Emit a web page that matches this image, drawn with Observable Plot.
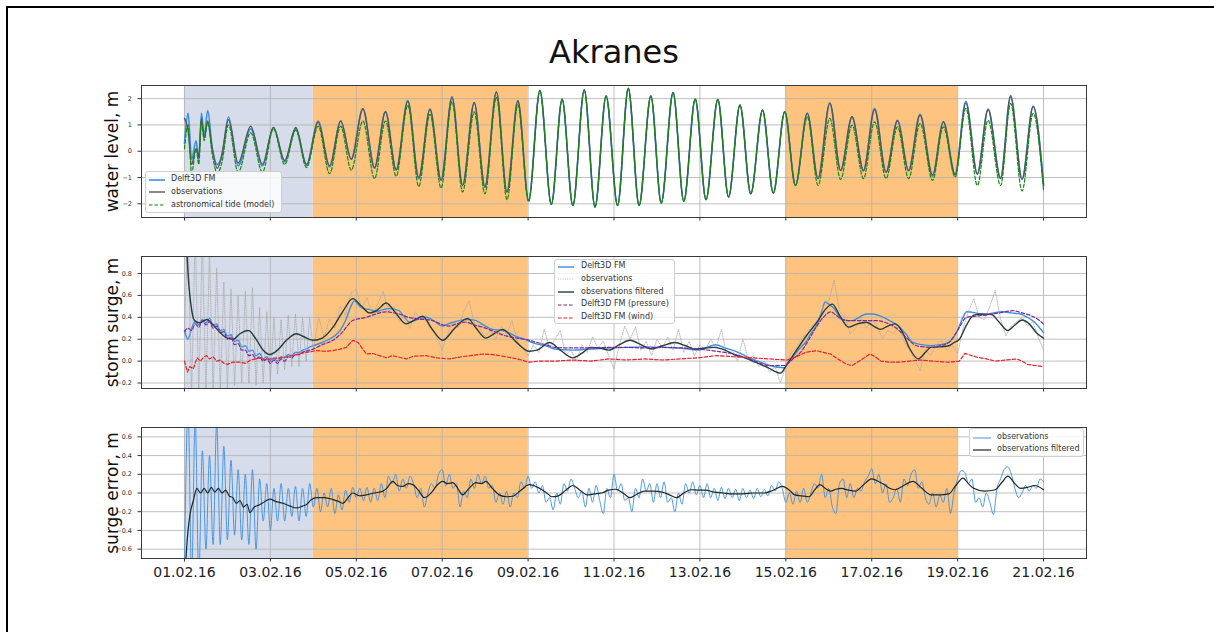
<!DOCTYPE html>
<html><head><meta charset="utf-8">
<script src="https://cdn.jsdelivr.net/npm/d3@7"></script>
<script src="https://cdn.jsdelivr.net/npm/@observablehq/plot@0.6"></script>
<style>
body{margin:0;background:#fff;font-family:"DejaVu Sans",sans-serif;}
#root{position:relative;width:1214px;height:632px;overflow:hidden;background:#fff;}
.panel{position:absolute;left:0;}
.bt{position:absolute;left:6px;top:6px;right:0;height:2px;background:#000;}
.bl{position:absolute;left:6px;top:6px;bottom:0;width:2px;background:#000;}
.leg{position:absolute;border:1px solid #cfcfcf;border-radius:3px;background:rgba(255,255,255,0.82);box-sizing:border-box;}
.leg span{position:absolute;font-size:8px;line-height:10px;color:#333;white-space:nowrap;}
.leg svg{position:absolute;overflow:visible;}
</style></head>
<body><div id="root"><div class="bt"></div><div class="bl"></div></div>
<script>
// ---------- axes ----------
const xTickHours = [0,48,96,144,192,240,288,336,384,432,480];
const xTickLabels = ["01.02.16","03.02.16","05.02.16","07.02.16","09.02.16","11.02.16","13.02.16","15.02.16","17.02.16","19.02.16","21.02.16"];
const wlTicks = [-2,-1,0,1,2];
const wlTickLabels = ["\u22122","\u22121","0","1","2"];
const ssTicks = [-0.2,0,0.2,0.4,0.6,0.8];
const ssTickLabels = ["\u22120.2","0.0","0.2","0.4","0.6","0.8"];
const seTicks = [-0.6,-0.4,-0.2,0,0.2,0.4,0.6];
const seTickLabels = ["\u22120.6","\u22120.4","\u22120.2","0.0","0.2","0.4","0.6"];

// ---------- shaded periods (hours since 01.02.16 00:00) ----------
const shadeStart = [0, 72, 336];
const shadeEnd = [72, 192, 432];
const shadeKind = ["pre", "event", "event"];

// ---------- water level extrema (hours, m) ----------
const wlTime = [0,2,4,6.5,8,9.5,11,13,15.5,18.4, 21,24.6,30,37,43.6,49.7,56,62.2,68.2,74.7,
 81.1,87.3,93.2,99.7,106.2,112.3,118.3,124.8,130.9,137.2, 143.4,149.5,155.4,161.9,167.9,174.3,180.2,186.3,192.3,198.6,
 205,211,217,223.4,229.4,235.6,242,248,254,260.6, 266.4,273,279,285.4,291.4,298,304,310.4,316.4,323,
 329,335.4,341.4,348,354,360.6,366.6,373,379.4,385.6, 392,398.4,404.6,411,418,424,430.6,436.6,443,449,
 456,461.6,468,474.2,480];
const wlObs = [1.25,0.8,-0.5,0.1,-0.2,1.25,0.5,1.15,0.1,-0.65, -0.1,1.2,-0.45,0.95,-0.5,0.9,-0.35,0.9,-0.5,1.1,
 -0.55,1.15,-0.3,1.62,-0.62,1.5,-0.7,1.9,-1.0,1.6, -1.1,2.05,-1.3,1.85,-1.35,2.25,-1.55,1.92,-1.87,2.3,
 -2.02,1.98,-2.06,2.33,-2.12,2.1,-2.06,2.39,-2.06,2.1, -1.97,2.23,-1.9,1.98,-1.84,1.97,-1.74,1.76,-1.62,1.56,
 -1.59,1.5,-1.3,1.44,-1.04,1.84,-0.73,1.31,-0.73,1.59, -0.79,1.16,-0.73,1.37,-0.9,1.12,-0.88,1.84,-0.88,1.59,
 -1.04,2.07,-1.08,1.69,-1.3];
const wlModel = [0.3,1.45,-0.3,0.4,-0.35,1.45,0.6,1.55,0.15,-0.5, -0.15,1.3,-0.55,0.85,-0.55,0.9,-0.4,0.85,-0.55,1.15,
 -0.6,1.15,-0.3,1.6,-0.65,1.5,-0.72,1.93,-1.05,1.6, -1.1,2.08,-1.3,1.85,-1.38,2.25,-1.55,1.92,-1.87,2.32,
 -2.02,1.98,-2.06,2.33,-2.12,2.1,-2.06,2.39,-2.06,2.1, -1.97,2.23,-1.9,1.98,-1.84,1.97,-1.74,1.76,-1.62,1.56,
 -1.59,1.5,-1.3,1.45,-1.04,1.82,-0.73,1.3,-0.75,1.63, -0.8,1.18,-0.75,1.4,-0.95,1.12,-0.88,1.9,-0.85,1.6,
 -1.0,2.12,-1.05,1.72,-1.28];
const wlTide = [0.1,1.0,-0.85,0.1,-0.5,1.15,0.4,1.1,-0.1,-0.85, -0.4,1.0,-0.8,0.7,-0.8,0.85,-0.5,0.8,-0.62,0.95,
 -0.85,0.95,-0.72,1.15,-1.04,1.15,-0.95,1.75,-1.34,1.4, -1.4,1.88,-1.55,1.5,-1.62,2.05,-1.84,1.76,-1.92,2.3,
 -2.02,1.96,-2.06,2.33,-2.12,2.1,-2.06,2.39,-2.06,2.1, -1.97,2.23,-1.9,1.98,-1.84,1.97,-1.74,1.76,-1.62,1.56,
 -1.59,1.5,-1.3,1.31,-1.3,1.25,-1.07,0.99,-1.04,1.12, -1.04,0.93,-1.04,1.06,-1.11,0.93,-0.98,1.63,-1.3,1.18,
 -1.3,1.82,-1.51,1.44,-1.49];

// ---------- storm surge [hours, m] ----------
const ssModel = [[0,0.28],[2,0.2],[4,0.3],[6,0.36],[8,0.33],[10,0.38],[12,0.35],[14,0.39],[16,0.33],[18,0.34],[20,0.28],[22,0.29],
 [24,0.23],[26,0.24],[28,0.18],[30,0.19],[32,0.13],[34,0.14],[36,0.09],[38,0.1],[40,0.05],[42,0.07],[44,0.02],[46,0.04],
 [48,0.0],[50,0.03],[52,0.0],[54,0.04],[56,0.03],[58,0.06],[60,0.05],[62,0.08],[64,0.08],[66,0.1],[68,0.11],[70,0.13],
 [72,0.14],[77,0.17],[83,0.22],[87,0.28],[90,0.37],[93,0.5],[95,0.55],[98,0.5],[100,0.48],[104,0.47],[107,0.45],[111,0.47],
 [114.6,0.48],[118,0.47],[120,0.46],[123,0.4],[125.7,0.355],[130,0.38],[135,0.4],[140,0.36],[144,0.32],[149,0.35],[153.6,0.37],
 [158,0.38],[162.9,0.37],[167,0.33],[172,0.29],[177,0.28],[181,0.26],[186,0.22],[190,0.2],[196,0.16],[202,0.14],[207,0.11],
 [217,0.1],[227,0.11],[237,0.12],[247,0.125],[257,0.13],[267,0.125],[277,0.12],[287,0.1],[297,0.15],[302,0.12],[307,0.095],
 [312,0.06],[317,0.02],[322,-0.01],[327,-0.04],[335,-0.06],[338,0.0],[341,0.06],[344,0.12],[347,0.17],[350,0.25],[354,0.355],
 [356,0.45],[358,0.54],[360,0.52],[363,0.48],[367,0.385],[370,0.37],[373,0.37],[377,0.4],[381,0.43],[385,0.43],[389,0.41],
 [394,0.37],[399,0.32],[403,0.25],[407,0.17],[412,0.15],[417,0.14],[422,0.15],[427,0.17],[431,0.25],[435,0.4],[437,0.45],
 [442,0.44],[447,0.42],[452,0.44],[457,0.45],[462,0.44],[467,0.43],[471,0.4],[475,0.355],[478,0.3],[480,0.26]];
const ssPressure = [[0,0.27],[2,0.3],[4,0.28],[6,0.34],[8,0.31],[10,0.37],[12,0.33],[14,0.36],[16,0.3],[18,0.32],[20,0.26],[22,0.27],
 [24,0.2],[26,0.22],[28,0.15],[30,0.16],[32,0.1],[34,0.1],[36,0.05],[38,0.06],[40,0.02],[42,0.04],[44,0.0],[46,0.02],
 [48,-0.02],[50,0.01],[52,-0.02],[54,0.02],[56,0.0],[58,0.04],[60,0.03],[62,0.06],[64,0.06],[66,0.08],[68,0.09],[70,0.1],
 [72,0.11],[77,0.15],[83,0.19],[88,0.26],[94,0.37],[101.6,0.4],[107,0.43],[112.7,0.45],[117,0.44],[120,0.43],[125,0.4],
 [131,0.385],[138.7,0.37],[143,0.34],[148,0.32],[152,0.34],[157,0.355],[162,0.33],[166.6,0.31],[173,0.27],[179.6,0.23],
 [186,0.21],[192.6,0.19],[197,0.17],[202,0.15],[207,0.125],[217,0.12],[227,0.12],[237,0.125],[247,0.125],[257,0.12],
 [267,0.125],[277,0.12],[287,0.11],[297,0.09],[307,0.065],[317,0.01],[327,-0.04],[335,-0.04],[340,0.02],[345,0.095],
 [349,0.2],[353,0.31],[357,0.4],[361,0.45],[364,0.42],[367,0.385],[372,0.37],[377,0.37],[382,0.37],[387,0.37],[392,0.35],
 [397,0.31],[403,0.22],[409,0.14],[413,0.13],[417,0.125],[422,0.14],[427,0.17],[432,0.28],[437,0.4],[442,0.41],[447,0.42],
 [455,0.44],[463,0.46],[468,0.44],[473,0.415],[477,0.38],[480,0.34]];
const ssWind = [[0,0.0],[1.7,-0.1],[3,-0.05],[5,-0.07],[7,0.03],[9,0.0],[11,0.04],[12.4,0.05],[14,0.02],[16,0.04],[18,0.0],
 [20,0.01],[22,-0.02],[24,-0.03],[27,-0.01],[31,-0.01],[34,-0.02],[37,0.01],[42,0.03],[45,0.01],[48,0.02],[53,0.03],[57,0.04],
 [60,0.05],[64,0.065],[68,0.08],[73.7,0.095],[78,0.09],[83,0.095],[87,0.11],[90.4,0.125],[94,0.19],[97,0.17],[101.6,0.065],
 [105,0.07],[109,0.05],[113,0.03],[116,0.05],[120,0.035],[124,0.02],[128,0.045],[135,0.05],[141,0.03],[148,0.02],[155,0.04],
 [160,0.05],[166.6,0.065],[172,0.06],[179.6,0.04],[186,0.02],[192.6,-0.01],[198,0.0],[207,0.0],[217,0.01],[227,0.0],[237,0.02],
 [247,0.01],[257,0.02],[267,0.01],[277,0.02],[287,0.03],[297,0.05],[307,0.04],[317,0.03],[327,0.02],[336.6,0.01],[342,0.04],
 [347,0.08],[353,0.095],[357,0.08],[361,0.065],[364,0.03],[367,0.0],[370,-0.03],[373,-0.04],[377,0.0],[383,0.065],[386,0.04],
 [389,0.0],[394,-0.01],[399,-0.01],[405,0.0],[411,0.01],[418,0.0],[427,-0.01],[433,0.0],[436,0.07],[440,0.05],[443,0.035],
 [448,0.02],[453,0.0],[459,0.01],[465,0.02],[468,0.0],[471,-0.03],[475,-0.04],[480,-0.05]];
const ssObsFiltered = [[0,1.5],[1,1.1],[2,0.8],[3,0.6],[4,0.47],[5,0.39],[6.5,0.36],[8.7,0.35],[12.4,0.38],[16,0.33],[20,0.26],
 [24,0.21],[27.3,0.2],[31,0.25],[35.7,0.28],[40,0.2],[44,0.1],[47.7,0.06],[52,0.1],[57,0.19],[62.6,0.25],[67,0.22],[71.9,0.19],
 [77,0.21],[83,0.31],[88,0.44],[94.1,0.57],[99,0.5],[103.4,0.44],[108,0.47],[112.7,0.53],[118,0.44],[123.9,0.34],[128,0.37],
 [133.1,0.41],[138,0.3],[144.3,0.19],[151,0.3],[158.2,0.39],[163,0.3],[168.4,0.21],[173,0.25],[177.7,0.29],[185,0.18],
 [192.6,0.09],[197,0.1],[204,0.17],[210,0.1],[217,0.03],[222,0.07],[227,0.125],[232,0.12],[237,0.1],[243,0.15],[249,0.19],
 [255,0.15],[261,0.11],[267,0.14],[274,0.17],[280,0.14],[285,0.11],[291,0.12],[296,0.125],[302,0.1],[307,0.06],[313,0.03],
 [319,-0.01],[326,-0.06],[333,-0.11],[336.6,-0.03],[342,0.1],[347,0.22],[354,0.37],[358,0.47],[362,0.52],[366,0.42],[371,0.31],
 [376,0.34],[381,0.355],[385,0.32],[389,0.29],[393,0.32],[397,0.34],[401,0.27],[405,0.12],[410,0.02],[414,0.08],[417,0.125],
 [422,0.13],[427,0.14],[430,0.17],[433,0.2],[437,0.33],[441,0.42],[446,0.43],[451,0.425],[455,0.36],[460,0.28],[464,0.33],
 [468,0.376],[472,0.34],[476,0.26],[480,0.21]];
const ssObsEarly = [[0,0.3],[2,1.2],[4,-0.3],[6,1.2],[8,-0.3],[10,1.1],[12,-0.3],[14,1.0],[16,-0.3],[18,0.85],[20,-0.28],
 [22,0.72],[24,-0.25],[26,0.66],[28,-0.22],[30,0.6],[32,-0.2],[34,0.64],[36,-0.2],[38,0.67],[40,-0.22],[42,0.49],[44,-0.2],
 [46,0.45],[48,-0.18],[50,0.4],[52,-0.12],[54,0.38],[56,-0.08],[58,0.42],[60,-0.05],[62,0.43],[64,-0.05],[66,0.4],[68,0.0],
 [70,0.4],[72,0.1]];
// 3-hourly from 75 h to 480 h
const ssObsLate = [0.40,0.22,0.38,0.30,0.50,0.42,0.62,0.66,0.48,0.58,
 0.42,0.52,0.64,0.45,0.50,0.36,0.42,0.30,0.45,0.38,
 0.42,0.30,0.22,0.10,0.25,0.35,0.30,0.45,0.55,0.34,
 0.30,0.22,0.28,0.20,0.32,0.24,0.37,0.18,0.12,0.05,
 0.15,0.08,0.29,0.12,0.20,0.28,0.05,0.10,0.00,0.15,
 0.08,0.22,0.12,0.18,0.05,-0.07,0.15,0.32,0.20,0.31,
 0.10,0.18,0.05,0.20,0.12,0.22,0.10,0.29,0.08,0.18,
 0.05,0.15,0.10,0.20,0.12,0.29,0.05,0.10,0.00,0.20,
 0.02,0.05,-0.05,0.00,-0.10,-0.05,-0.20,-0.05,0.08,0.12,
 0.22,0.25,0.33,0.37,0.50,0.55,0.74,0.46,0.40,0.25,
 0.30,0.40,0.30,0.38,0.32,0.20,0.28,0.25,0.32,0.18,
 0.10,0.02,-0.09,0.10,0.05,0.15,0.19,0.10,0.15,0.065,
 0.30,0.45,0.57,0.40,0.38,0.50,0.645,0.38,0.23,0.32,
 0.36,0.40,0.32,0.36,0.22,0.10];

// ---------- surge error ----------
const seFiltered = [[0,-1.0],[1,-0.65],[2,-0.4],[3.2,-0.22],[5,-0.08],[6.9,0.05],[9,0.0],[11,0.05],[13,0.0],[15,0.06],[17,0.01],
 [19,0.05],[21,0.0],[23,0.03],[25,-0.03],[27,-0.05],[29,-0.11],[31,-0.08],[33,-0.15],[35,-0.12],[36.6,-0.21],[39,-0.15],
 [42,-0.125],[45,-0.09],[47.7,-0.065],[51,-0.09],[55,-0.11],[59,-0.14],[62.6,-0.16],[66,-0.14],[68,-0.125],[71,-0.07],
 [73.7,-0.05],[78,-0.05],[83,-0.07],[86,-0.09],[88.6,-0.11],[91,-0.06],[94,0.0],[98,-0.03],[101.6,-0.02],[106,0.0],[110.9,0.02],
 [113,0.05],[116.4,0.125],[119,0.08],[122,0.07],[125,0.1],[127.6,0.09],[131,0.02],[134,-0.05],[138.7,0.02],[141,0.08],
 [144.3,0.125],[147,0.1],[150,0.11],[153,0.04],[155.4,-0.02],[159,0.05],[162.9,0.11],[166,0.1],[168.4,0.125],[172,0.05],
 [175.9,-0.02],[180,-0.04],[183.3,-0.035],[188,0.03],[192.6,0.09],[198,0.055],[203.7,-0.02],[205,-0.04],[209,-0.03],[213,0.03],
 [217,0.08],[221,0.03],[225,-0.02],[229,-0.01],[233,0.0],[237,0.03],[241,0.04],[245,0.0],[249,-0.05],[253,-0.01],[257,0.02],
 [262,0.02],[267,0.01],[271,-0.02],[275,-0.05],[279,0.0],[283,0.035],[287,0.03],[291,0.03],[296,0.01],[301,0.0],[306,-0.01],
 [312,-0.01],[318,0.0],[324,0.0],[329,0.03],[334,0.07],[338,0.03],[341,-0.02],[345,-0.03],[349,-0.04],[352,0.03],[355,0.09],
 [358,0.05],[361,0.02],[364,0.04],[367,0.05],[371,0.03],[375,0.02],[379,0.08],[384,0.15],[388,0.12],[391,0.09],[394,0.05],
 [397,0.035],[401,0.07],[407,0.125],[412,0.05],[417,-0.02],[422,-0.02],[427,-0.01],[431,0.08],[435,0.16],[438,0.1],[441,0.05],
 [447,0.02],[453,0.035],[457,0.12],[460,0.18],[464,0.1],[467,0.05],[471,0.06],[475,0.08],[480,0.035]];
// 2-hourly from 0 h to 480 h, one row per day
const seObs = [
 -0.8,0.9,-0.9,0.8,-0.9,0.45,-0.6,0.4,-0.55,0.75,-0.55,0.5,
 -0.5,0.35,-0.45,0.25,-0.5,0.2,-0.55,0.25,-0.6,0.15,-0.3,0.1,
 -0.4,0.05,-0.3,0.1,-0.3,0.05,-0.25,0.07,-0.3,0.05,-0.25,0.1,
 -0.15,0.05,-0.2,0.0,-0.15,0.05,-0.22,-0.02,-0.18,0.03,-0.1,0.06,
 -0.05,0.05,-0.08,0.06,-0.1,0.05,-0.08,0.1,-0.05,0.18,0.1,0.2,
 0.02,0.15,0.05,0.18,0.1,-0.05,0.05,-0.15,0.0,0.1,0.05,0.2,
 0.25,0.08,0.2,0.05,0.1,-0.15,0.02,-0.05,0.15,0.05,0.2,0.1,
 0.18,0.05,0.08,-0.1,0.0,-0.12,0.02,-0.15,0.0,-0.05,0.12,0.05,
 0.18,0.05,0.12,0.0,0.08,-0.1,-0.05,-0.18,0.0,-0.12,0.1,0.02,
 0.15,0.05,-0.05,0.02,-0.15,0.05,-0.1,0.08,-0.08,-0.22,0.05,-0.05,
 0.2,0.02,0.1,-0.08,-0.05,-0.2,0.05,-0.05,0.15,0.02,0.1,-0.1,
 0.1,-0.05,0.12,-0.1,-0.05,-0.2,0.0,-0.12,0.1,0.0,0.12,-0.02,
 0.08,-0.05,0.1,-0.05,0.05,-0.08,0.06,-0.06,0.05,-0.05,0.04,-0.08,
 0.05,-0.05,0.03,-0.06,0.05,-0.04,0.04,-0.03,0.08,0.02,0.12,0.05,
 -0.1,0.0,-0.12,0.02,-0.1,0.05,-0.1,0.0,0.1,0.05,0.2,-0.05,
 0.05,-0.15,-0.22,0.1,0.15,-0.05,0.1,-0.05,0.05,0.02,0.12,0.18,
 0.26,0.1,0.2,0.0,0.1,-0.1,-0.05,0.05,-0.1,0.15,0.08,0.2,
 0.25,0.05,0.12,-0.05,-0.12,0.0,-0.15,-0.02,-0.1,0.05,-0.22,0.0,
 0.15,0.24,0.22,0.1,0.15,-0.1,-0.05,-0.15,0.0,-0.1,-0.23,0.05,
 0.15,0.25,0.28,0.2,0.05,-0.05,0.0,0.08,0.02,0.08,0.05,0.15,
 0.12];

// ---------- styles ----------
const C = {
  model: "#3b8fe3", obs: "#555555", tide: "#138a13", filt: "#263b3b",
  press: "#7b2a9a", wind: "#e8232a", obsLight: "#a8a8a8", errFilt: "#1e2626",
  shade: {pre: "#d6dce9", event: "#fec47f"}, grid: "#b0b0b0"
};
const root = document.getElementById("root");

const shades = shadeStart.map((s, i) => ({start: s, end: shadeEnd[i], kind: shadeKind[i]}));
const wlRows = wlTime.map((t, i) => ({t, obs: wlObs[i], model: wlModel[i], tide: wlTide[i]}));
const ssObsRows = ssObsEarly.map(d => ({t: d[0], v: d[1]}))
  .concat(ssObsLate.map((v, i) => ({t: 75 + 3 * i, v})));
const seObsRows = seObs.map((v, i) => ({t: 2 * i, v}));
const pair = {x: d => d[0], y: d => d[1]};

function panel(opts) {
  const {top, height, marginTop, marginBottom, yDomain, yTicks, yTickLabels, yLabel, lines, showX} = opts;
  const xAxis = showX
    ? Plot.axisX(xTickHours, {tickSize: 3.5, tickPadding: 5, fontSize: 14, fill: "#222",
        tickFormat: d => xTickLabels[xTickHours.indexOf(d)], label: null})
    : Plot.axisX(xTickHours, {tickSize: 3.5, tickFormat: () => "", label: null});
  const svg = Plot.plot({
    width: 1214, height, marginLeft: 141, marginRight: 128, marginTop, marginBottom,
    style: {fontFamily: "'DejaVu Sans', sans-serif", fontSize: "6.5px", color: "#333", background: "transparent", overflow: "visible"},
    x: {domain: [-24, 504]},
    y: {domain: yDomain},
    color: {type: "identity"},
    marks: [
      Plot.rect(shades, {x1: "start", x2: "end", fill: d => C.shade[d.kind]}),
      Plot.gridX(xTickHours, {stroke: C.grid, strokeOpacity: 1, strokeWidth: 0.8}),
      Plot.gridY(yTicks, {stroke: C.grid, strokeOpacity: 1, strokeWidth: 0.8}),
      ...lines,
      Plot.frame({stroke: "#3a3a3a", strokeWidth: 1}),
      Plot.axisY(yTicks, {tickSize: 3.5, tickPadding: 6,
        tickFormat: d => yTickLabels[yTicks.indexOf(d)], label: null}),
      xAxis,
      Plot.text([yLabel], {frameAnchor: "left", textAnchor: "middle", lineAnchor: "middle", dx: -29, rotate: -90, fontSize: 17, fill: "#111"})
    ]
  });
  svg.classList.add("panel");
  svg.style.top = top + "px";
  root.appendChild(svg);
}

// Panel 1: water level
panel({
  top: 75, height: 154, marginTop: 10, marginBottom: 12,
  yDomain: [-2.52, 2.5], yTicks: wlTicks, yTickLabels: wlTickLabels, yLabel: "water level, m",
  lines: [
    Plot.line(wlRows, {x: "t", y: "model", stroke: C.model, strokeWidth: 1.6, curve: "monotone-x", clip: true}),
    Plot.line(wlRows, {x: "t", y: "obs", stroke: C.obs, strokeWidth: 1.4, curve: "monotone-x", clip: true}),
    Plot.line(wlRows, {x: "t", y: "tide", stroke: C.tide, strokeWidth: 1.2, strokeDasharray: "3.5,2", curve: "monotone-x", clip: true})
  ]
});

// Panel 2: storm surge
panel({
  top: 246, height: 154, marginTop: 10, marginBottom: 12,
  yDomain: [-0.25, 0.955], yTicks: ssTicks, yTickLabels: ssTickLabels, yLabel: "storm surge, m",
  lines: [
    Plot.line(ssModel, {...pair, stroke: C.model, strokeWidth: 1.4, curve: "monotone-x", clip: true}),
    Plot.line(ssObsRows, {x: "t", y: "v", stroke: C.obsLight, strokeWidth: 0.8, strokeDasharray: "1,1.3", clip: true}),
    Plot.line(ssObsFiltered, {...pair, stroke: C.filt, strokeWidth: 1.4, curve: "monotone-x", clip: true}),
    Plot.line(ssPressure, {...pair, stroke: C.press, strokeWidth: 1.2, strokeDasharray: "3.5,2", curve: "monotone-x", clip: true}),
    Plot.line(ssWind, {...pair, stroke: C.wind, strokeWidth: 1.2, strokeDasharray: "3.5,2", clip: true})
  ]
});

// Panel 3: surge error
panel({
  top: 417, height: 173, marginTop: 10, marginBottom: 32,
  yDomain: [-0.7, 0.7], yTicks: seTicks, yTickLabels: seTickLabels, yLabel: "surge error, m", showX: true,
  lines: [
    Plot.line(seObsRows, {x: "t", y: "v", stroke: C.model, strokeWidth: 0.9, curve: "monotone-x", clip: true}),
    Plot.line(seFiltered, {...pair, stroke: C.errFilt, strokeWidth: 1.2, curve: "monotone-x", clip: true})
  ]
});

// Title
const title = d3.select(root).append("svg").attr("width", 1214).attr("height", 75)
  .style("position", "absolute").style("left", 0).style("top", 0);
title.append("text").attr("x", 614).attr("y", 63).attr("text-anchor", "middle")
  .attr("font-family", "'DejaVu Sans', sans-serif").attr("font-size", 32).attr("fill", "#111").text("Akranes");

// Legends
function legend(box, rows) {
  const div = d3.select(root).append("div").attr("class", "leg")
    .style("left", box.left + "px").style("top", box.top + "px")
    .style("width", box.width + "px").style("height", box.height + "px");
  rows.forEach((r, i) => {
    const cy = box.first + i * box.gap;
    const s = div.append("svg").attr("width", box.sw).attr("height", 6)
      .style("left", box.sx + "px").style("top", (cy - 3) + "px");
    s.append("line").attr("x1", 0).attr("x2", box.sw).attr("y1", 3).attr("y2", 3)
      .attr("stroke", r.color).attr("stroke-width", r.w).attr("stroke-dasharray", r.dash || null);
    div.append("span").style("left", box.tx + "px").style("top", (cy - 5.5) + "px").text(r.label);
  });
}
legend({left: 145, top: 171, width: 137, height: 42, first: 7.5, gap: 12.8, sx: 3, sw: 16, tx: 25}, [
  {label: "Delft3D FM", color: C.model, w: 1.6},
  {label: "observations", color: C.obs, w: 1.4},
  {label: "astronomical tide (model)", color: C.tide, w: 1.2, dash: "3.5,2"}
]);
legend({left: 554, top: 259, width: 121, height: 65, first: 6.7, gap: 12.7, sx: 3, sw: 16, tx: 26}, [
  {label: "Delft3D FM", color: C.model, w: 1.4},
  {label: "observations", color: C.obsLight, w: 0.8, dash: "1,1.3"},
  {label: "observations filtered", color: C.filt, w: 1.4},
  {label: "Delft3D FM (pressure)", color: C.press, w: 1.2, dash: "3.5,2"},
  {label: "Delft3D FM (wind)", color: C.wind, w: 1.2, dash: "3.5,2"}
]);
legend({left: 969, top: 428, width: 115, height: 29, first: 8.8, gap: 12, sx: 3, sw: 18, tx: 27}, [
  {label: "observations", color: C.model, w: 0.9},
  {label: "observations filtered", color: C.errFilt, w: 1.2}
]);
</script>
</body></html>
